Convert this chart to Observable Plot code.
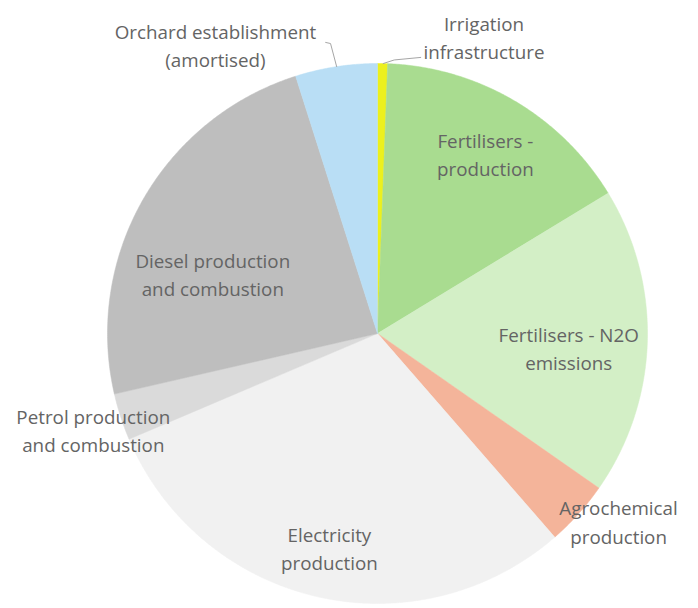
<!DOCTYPE html>
<html>
<head>
<meta charset="utf-8">
<script src="https://cdn.jsdelivr.net/npm/d3@7"></script>
<script src="https://cdn.jsdelivr.net/npm/@observablehq/plot@0.6"></script>
<style>
  html, body { margin: 0; padding: 0; background: #ffffff; }
  #chart { width: 698px; height: 608px; }
</style>
</head>
<body>
<div id="chart"></div>
<script>
// ---- Data (clockwise from 12 o'clock) ----
const categories = [
  "Irrigation infrastructure",
  "Fertilisers - production",
  "Fertilisers - N2O emissions",
  "Agrochemical production",
  "Electricity production",
  "Petrol production and combustion",
  "Diesel production and combustion",
  "Orchard establishment (amortised)"
];
const shares = [0.6, 15.7, 18.4, 3.9, 30.0, 2.8, 23.7, 4.9];
const sliceColors = ["#ecf01e", "#a9dc90", "#d3efc6", "#f4b49a", "#f1f1f1", "#dadada", "#bebebe", "#b9def5"];
const labelTexts = [
  "Irrigation\ninfrastructure",
  "Fertilisers -\nproduction",
  "Fertilisers - N2O\nemissions",
  "Agrochemical\nproduction",
  "Electricity\nproduction",
  "Petrol production\nand combustion",
  "Diesel production\nand combustion",
  "Orchard establishment\n(amortised)"
];
// label placement: [angle in degrees clockwise from north, radius as fraction of pie radius]
const labelPlacement = [[19.7, 1.17], [30.8, 0.78], [94, 0.71], [127.8, 1.13], [192.7, 0.81], [251.5, 1.11], [290.2, 0.65], [330.8, 1.23]];
// leader lines (polar [angle, radius]) for the two small top slices
const leaderLines = [
  {category: "Irrigation infrastructure", pts: [[1.2, 1.0], [3.5, 1.015], [8.9, 1.035]]},
  {category: "Orchard establishment (amortised)", pts: [[351.3, 1.0], [350.8, 1.088], [349.9, 1.095]]}
];

// ---- Build geometry from the data via d3.pie ----
const rows = categories.map((c, i) => ({category: c, share: shares[i], color: sliceColors[i]}));
const arcs = d3.pie().sort(null).value(d => d.share)(rows);
const polar = (a, r) => ({x: r * Math.sin(a), y: r * Math.cos(a)});
const rad = Math.PI / 180;

const slicePts = [];
arcs.forEach(arc => {
  const {category, color} = arc.data;
  slicePts.push({category, color, ...polar(0, 0)});
  const n = Math.max(2, Math.ceil((arc.endAngle - arc.startAngle) / (0.4 * rad)));
  for (let k = 0; k <= n; k++) {
    const a = arc.startAngle + (arc.endAngle - arc.startAngle) * k / n;
    slicePts.push({category, color, ...polar(a, 1)});
  }
  slicePts.push({category, color, ...polar(0, 0)});
});

const labels = rows.map((d, i) => ({
  text: labelTexts[i],
  ...polar(labelPlacement[i][0] * rad, labelPlacement[i][1])
}));

const leaderPts = leaderLines.flatMap(l => l.pts.map(([a, r]) => ({category: l.category, ...polar(a * rad, r)})));

const chart = Plot.plot({
  width: 698,
  height: 608,
  marginLeft: 107,
  marginRight: 51,
  marginTop: 63,
  marginBottom: 5,
  x: {domain: [-1, 1], axis: null},
  y: {domain: [-1, 1], axis: null},
  color: {type: "identity"},
  style: {fontFamily: "'Open Sans', sans-serif", background: "#ffffff"},
  marks: [
    Plot.line(slicePts, {x: "x", y: "y", z: "category", fill: "color", stroke: "color", strokeWidth: 0.5, curve: "linear"}),
    Plot.line(leaderPts, {x: "x", y: "y", z: "category", stroke: "#a6a6a6", strokeWidth: 1}),
    Plot.text(labels, {x: "x", y: "y", text: "text", fontSize: 18.8, lineHeight: 1.5, fill: "#646464", textAnchor: "middle"})
  ]
});
document.getElementById("chart").appendChild(chart);
</script>
</body>
</html>
